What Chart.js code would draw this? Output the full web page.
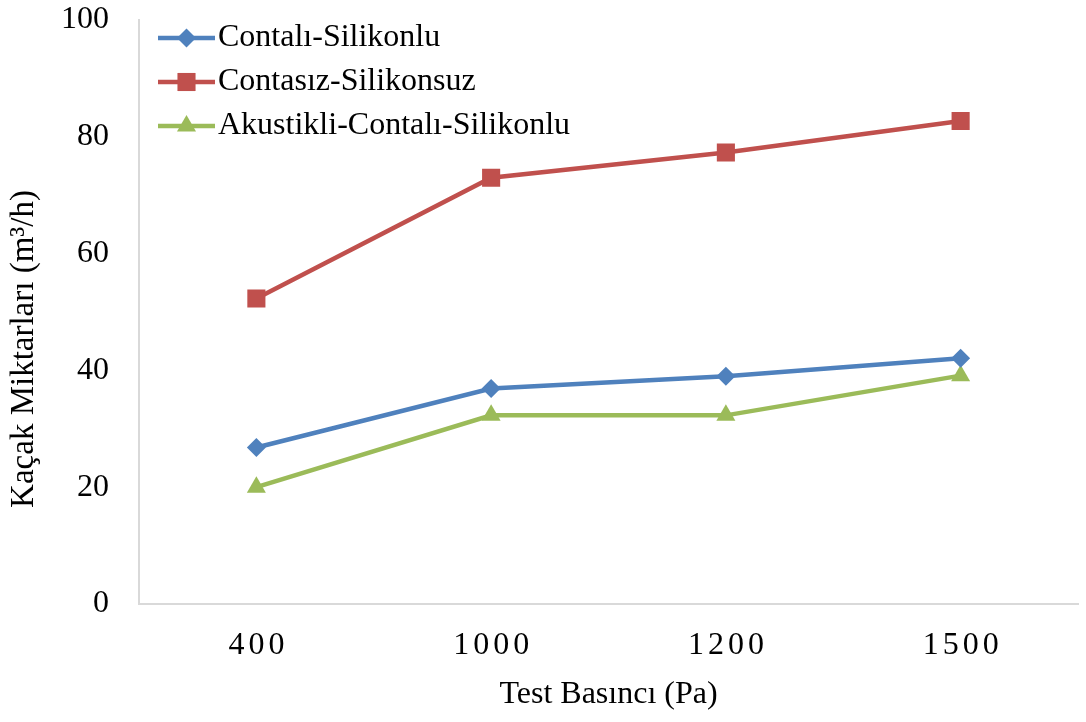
<!DOCTYPE html>
<html>
<head>
<meta charset="utf-8">
<title>Kaçak Miktarları</title>
<script src="https://cdn.jsdelivr.net/npm/chart.js@4.4.1/dist/chart.umd.min.js"></script>
<style>
  html, body { margin: 0; padding: 0; background: #ffffff; }
  canvas { display: block; }
</style>
</head>
<body>
<canvas id="chart" width="1086" height="722"></canvas>
<script>
// Test pressures (Pa) on the category axis
const testPressures = ['400', '1000', '1200', '1500'];

// Leakage rates (m³/h) per configuration
const contaliSilikonlu = [26.8, 36.9, 39.0, 42.1];
const contasizSilikonsuz = [52.3, 73.0, 77.3, 82.7];
const akustikliContaliSilikonlu = [20.0, 32.3, 32.3, 39.1];

// Series names and axis texts
const seriesNames = ['Contalı-Silikonlu', 'Contasız-Silikonsuz', 'Akustikli-Contalı-Silikonlu'];
const yTickValues = [0, 20, 40, 60, 80, 100];
const yAxisTitle = 'Kaçak Miktarları (m³/h)';
const xAxisTitle = 'Test Basıncı (Pa)';

const FONT_FAMILY = "'Liberation Serif', 'Times New Roman', serif";
const AXIS_GREY = '#d9d9d9';

const seriesStyles = [
  { color: '#4F81BD', pointStyle: 'rectRot', radius: 9.5 },
  { color: '#C0504D', pointStyle: 'rect', radius: 12.8 },
  { color: '#9BBB59', pointStyle: 'triangle', radius: 11 }
];
const seriesValues = [contaliSilikonlu, contasizSilikonsuz, akustikliContaliSilikonlu];

const datasets = seriesValues.map((values, i) => ({
  label: seriesNames[i],
  data: values,
  borderColor: seriesStyles[i].color,
  backgroundColor: seriesStyles[i].color,
  borderWidth: 4.5,
  pointStyle: seriesStyles[i].pointStyle,
  pointRadius: seriesStyles[i].radius,
  pointHoverRadius: seriesStyles[i].radius,
  pointBorderWidth: 0,
  pointBackgroundColor: seriesStyles[i].color,
  tension: 0,
  fill: false
}));

// Slightly spaced digits on the category axis labels
const spacedXLabels = {
  id: 'spacedXLabels',
  afterLayout(chart) {
    const sx = chart.scales.x;
    if (!sx || sx._spacedWrapped) return;
    const original = sx.drawLabels;
    sx.drawLabels = function (area) {
      const ctx = this.ctx;
      ctx.save();
      ctx.letterSpacing = '4px';
      ctx.translate(2, 0);
      original.call(this, area);
      ctx.restore();
    };
    sx._spacedWrapped = true;
  }
};

// Rotated value-axis title, centred on the full plot height
const yTitlePlugin = {
  id: 'yTitlePlugin',
  afterDraw(chart) {
    const ctx = chart.ctx;
    ctx.save();
    ctx.translate(24, 349);
    ctx.rotate(-Math.PI / 2);
    ctx.font = '33px ' + FONT_FAMILY;
    ctx.fillStyle = '#000000';
    ctx.textAlign = 'center';
    ctx.textBaseline = 'middle';
    ctx.fillText(yAxisTitle, 0, 0);
    ctx.restore();
  }
};

// Legend inside the plot: line sample with marker, then series name
const innerLegend = {
  id: 'innerLegend',
  afterDraw(chart) {
    const ctx = chart.ctx;
    const area = chart.chartArea;
    const x0 = area.left + 19;
    const x1 = area.left + 76;
    chart.data.datasets.forEach((ds, i) => {
      const y = area.top + 18 + i * 44;
      ctx.save();
      ctx.strokeStyle = ds.borderColor;
      ctx.lineWidth = ds.borderWidth;
      ctx.lineCap = 'butt';
      ctx.beginPath();
      ctx.moveTo(x0, y);
      ctx.lineTo(x1, y);
      ctx.stroke();
      ctx.fillStyle = ds.pointBackgroundColor;
      ctx.strokeStyle = ds.pointBackgroundColor;
      Chart.helpers.drawPoint(ctx, {
        pointStyle: ds.pointStyle,
        radius: ds.pointRadius,
        borderWidth: 0,
        rotation: 0
      }, (x0 + x1) / 2, y);
      ctx.font = '32px ' + FONT_FAMILY;
      ctx.fillStyle = '#000000';
      ctx.textAlign = 'left';
      ctx.textBaseline = 'middle';
      ctx.fillText(ds.label, x1 + 3, y);
      ctx.restore();
    });
  }
};

new Chart(document.getElementById('chart'), {
  type: 'line',
  data: { labels: testPressures, datasets },
  options: {
    responsive: false,
    devicePixelRatio: 1,
    animation: false,
    layout: { autoPadding: false, padding: { left: 0, top: 20, right: 8, bottom: 0 } },
    plugins: {
      legend: { display: false },
      tooltip: { enabled: false }
    },
    scales: {
      x: {
        type: 'category',
        offset: true,
        grid: { display: false, drawTicks: false },
        border: { display: true, color: AXIS_GREY, width: 2 },
        ticks: {
          color: '#000000',
          font: { family: FONT_FAMILY, size: 32 },
          padding: 22,
          maxRotation: 0,
          autoSkip: false
        },
        title: {
          display: true,
          text: xAxisTitle,
          color: '#000000',
          font: { family: FONT_FAMILY, size: 32 },
          padding: { top: 0, bottom: 8 }
        },
        afterFit(scale) {
          scale.height = 118;
          scale.paddingLeft = 0;
          scale.paddingRight = 0;
        }
      },
      y: {
        min: 0,
        max: 100,
        grid: { display: false, drawTicks: false },
        border: { display: true, color: AXIS_GREY, width: 2 },
        afterBuildTicks(scale) {
          scale.ticks = yTickValues.map(v => ({ value: v }));
        },
        ticks: {
          color: '#000000',
          font: { family: FONT_FAMILY, size: 32 },
          padding: 30
        },
        afterFit(scale) {
          scale.width = 139;
          scale.paddingTop = 0;
          scale.paddingBottom = 0;
        }
      }
    }
  },
  plugins: [spacedXLabels, yTitlePlugin, innerLegend]
});
</script>
</body>
</html>
